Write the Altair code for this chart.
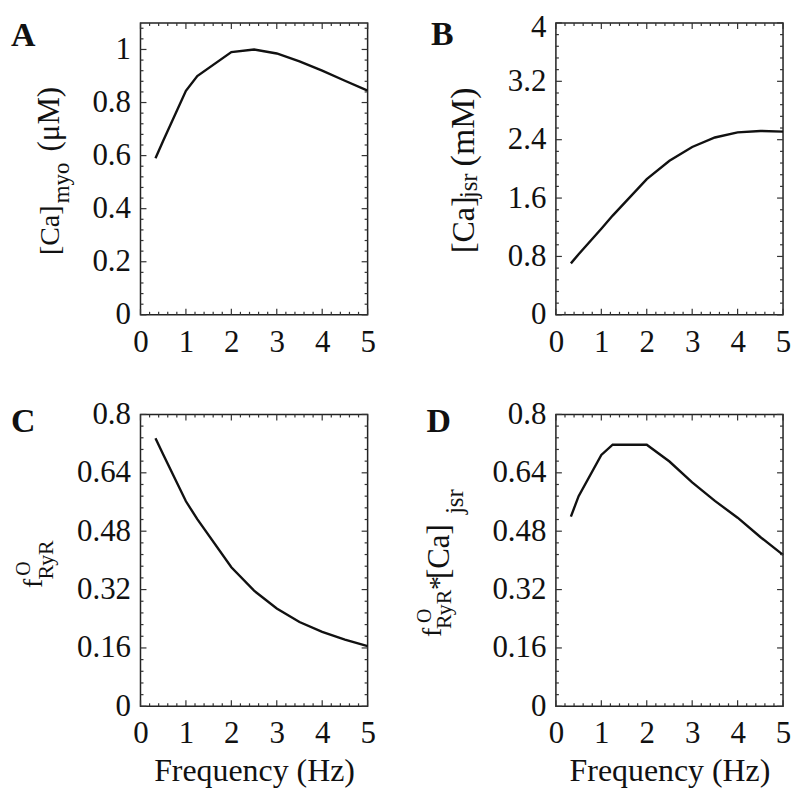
import altair as alt
import pandas as pd

# ---------------- data ----------------
freq = [0.33, 0.5, 1.0, 1.25, 2.0, 2.5, 3.0, 3.5, 4.0, 4.5, 5.0]
ca_myo = [0.59, 0.656, 0.844, 0.90, 0.99, 1.0, 0.985, 0.955, 0.92, 0.882, 0.845]
ca_jsr = [0.705, 0.83, 1.18, 1.36, 1.86, 2.11, 2.30, 2.43, 2.50, 2.52, 2.51]
f_ryr = [0.735, 0.69, 0.562, 0.513, 0.381, 0.317, 0.268, 0.231, 0.204, 0.183, 0.165]
f_ryr_ca = [0.52, 0.576, 0.689, 0.717, 0.717, 0.671, 0.614, 0.563, 0.517, 0.464, 0.415]

x_major = [0, 1, 2, 3, 4, 5]
yA_major = [0, 0.2, 0.4, 0.6, 0.8, 1.0]
yB_major = [0, 0.8, 1.6, 2.4, 3.2, 4.0]
yC_major = [0, 0.16, 0.32, 0.48, 0.64, 0.8]
yD_major = [0, 0.16, 0.32, 0.48, 0.64, 0.8]

x_title = "Frequency (Hz)"

# ---------------- styling ----------------
W, H = 228, 293
FONT = "Liberation Serif"
INK = "#111111"
TICK = "#333333"
MAJ, MIN = 6, 3
LETTER_SIZE = 34


def minor_ticks(major, top):
    step = (major[1] - major[0]) / 5.0
    n = int(top / step + 1e-9)
    vals = [round(i * step, 6) for i in range(n + 1)]
    return [v for v in vals if all(abs(v - m) > 1e-9 for m in major)]


def text_piece(txt, x, y, size, angle=270, bold=False):
    kw = dict(font=FONT, fontSize=size, align="left", baseline="alphabetic", color=INK)
    if angle:
        kw["angle"] = angle
    if bold:
        kw["fontWeight"] = "bold"
    return alt.Chart(pd.DataFrame({"t": [txt]})).mark_text(**kw).encode(
        text="t:N", x=alt.value(x), y=alt.value(y)
    )


def panel(yvals, ymajor, ytop, letter, letter_pos, pieces, show_xtitle, top_label_shift=0):
    df = pd.DataFrame({"freq": freq, "val": yvals})
    xs = alt.Scale(domain=[0, 5], nice=False, zero=False)
    ys = alt.Scale(domain=[0, ytop], nice=False, zero=False)
    xaxis_kw = dict(
        values=x_major, labelExpr="'' + datum.value", domain=False, ticks=False,
        tickSize=0, grid=False, labelFont=FONT, labelFontSize=31, labelColor=INK,
        labelPadding=12.5, labelFlush=False, labelOverlap=False,
    )
    if show_xtitle:
        xaxis_kw.update(title=x_title, titleFont=FONT, titleFontSize=32,
                        titleFontWeight="normal", titleColor=INK,
                        titleBaseline="alphabetic", titleY=74)
    else:
        xaxis_kw.update(title=None)
    xaxis = alt.Axis(**xaxis_kw)
    yaxis_kw = dict(
        values=ymajor, labelExpr="'' + datum.value", domain=False, ticks=False,
        tickSize=0, grid=False, labelFont=FONT, labelFontSize=31, labelColor=INK,
        labelPadding=10, labelFlush=False, labelOverlap=False, title=None,
    )
    if top_label_shift:
        yaxis_kw["labelOffset"] = {
            "condition": {"test": "datum.value >= %g" % (ytop - 1e-6), "value": top_label_shift},
            "value": 0,
        }
    yaxis = alt.Axis(**yaxis_kw)

    def ticks(vals, length, kind):
        tdf = pd.DataFrame({"v": vals})
        base = alt.Chart(tdf).mark_rule(color=TICK, strokeWidth=1.2)
        if kind == "x":
            enc = alt.X("v:Q", scale=xs, axis=xaxis)
            return [base.encode(x=enc, y=alt.value(H), y2=alt.value(H - length)),
                    base.encode(x=enc, y=alt.value(0), y2=alt.value(length))]
        enc = alt.Y("v:Q", scale=ys, axis=yaxis)
        return [base.encode(y=enc, x=alt.value(0), x2=alt.value(length)),
                base.encode(y=enc, x=alt.value(W), x2=alt.value(W - length))]

    line = alt.Chart(df).mark_line(color=INK, strokeWidth=2.4).encode(
        x=alt.X("freq:Q", scale=xs, axis=xaxis),
        y=alt.Y("val:Q", scale=ys, axis=yaxis),
    )
    layers = [line]
    layers += ticks(x_major, MAJ, "x")
    layers += ticks(minor_ticks(x_major, 5), MIN, "x")
    layers += ticks(ymajor, MAJ, "y")
    layers += ticks(minor_ticks(ymajor, ytop), MIN, "y")
    layers.append(text_piece(letter, letter_pos[0], letter_pos[1], LETTER_SIZE, angle=0, bold=True))
    for (t, x, y, s) in pieces:
        layers.append(text_piece(t, x, y, s))
    return alt.layer(*layers).properties(width=W, height=H)


A = panel(ca_myo, yA_major, 1.1, "A", (-130, 23),
          [("[Ca]", -82, 233, 28), ("myo", -72, 181, 23), ("(μM)", -82, 129, 31)], False)
B = panel(ca_jsr, yB_major, 4.0, "B", (-125.5, 22),
          [("[Ca]", -82, 231, 32), ("jsr", -79.5, 176, 25), ("(mM)", -82, 144, 34)], False,
          top_label_shift=5)
C = panel(f_ryr, yC_major, 0.8, "C", (-130, 18),
          [("f", -99, 174.3, 28), ("O", -111, 162, 20), ("RyR", -87.5, 165.8, 22)], True)
D = panel(f_ryr_ca, yD_major, 0.8, "D", (-130, 18),
          [("f", -115, 223.3, 28), ("O", -125, 209.3, 20), ("RyR", -105, 215.3, 22),
           ("*", -108, 176.3, 28), ("[Ca]", -107, 165.3, 31), ("jsr", -93, 100, 25)], True)

chart = alt.concat(
    A, B, C, D, columns=2, spacing={"row": 100, "column": 189}, bounds="flush"
).configure_view(
    stroke="#222222", strokeWidth=1.5
).properties(
    padding={"left": 2, "top": 1.5, "right": 0, "bottom": 0},
    background="white",
)

chart.save("out.html", embed_options={"renderer": "svg", "actions": False})
